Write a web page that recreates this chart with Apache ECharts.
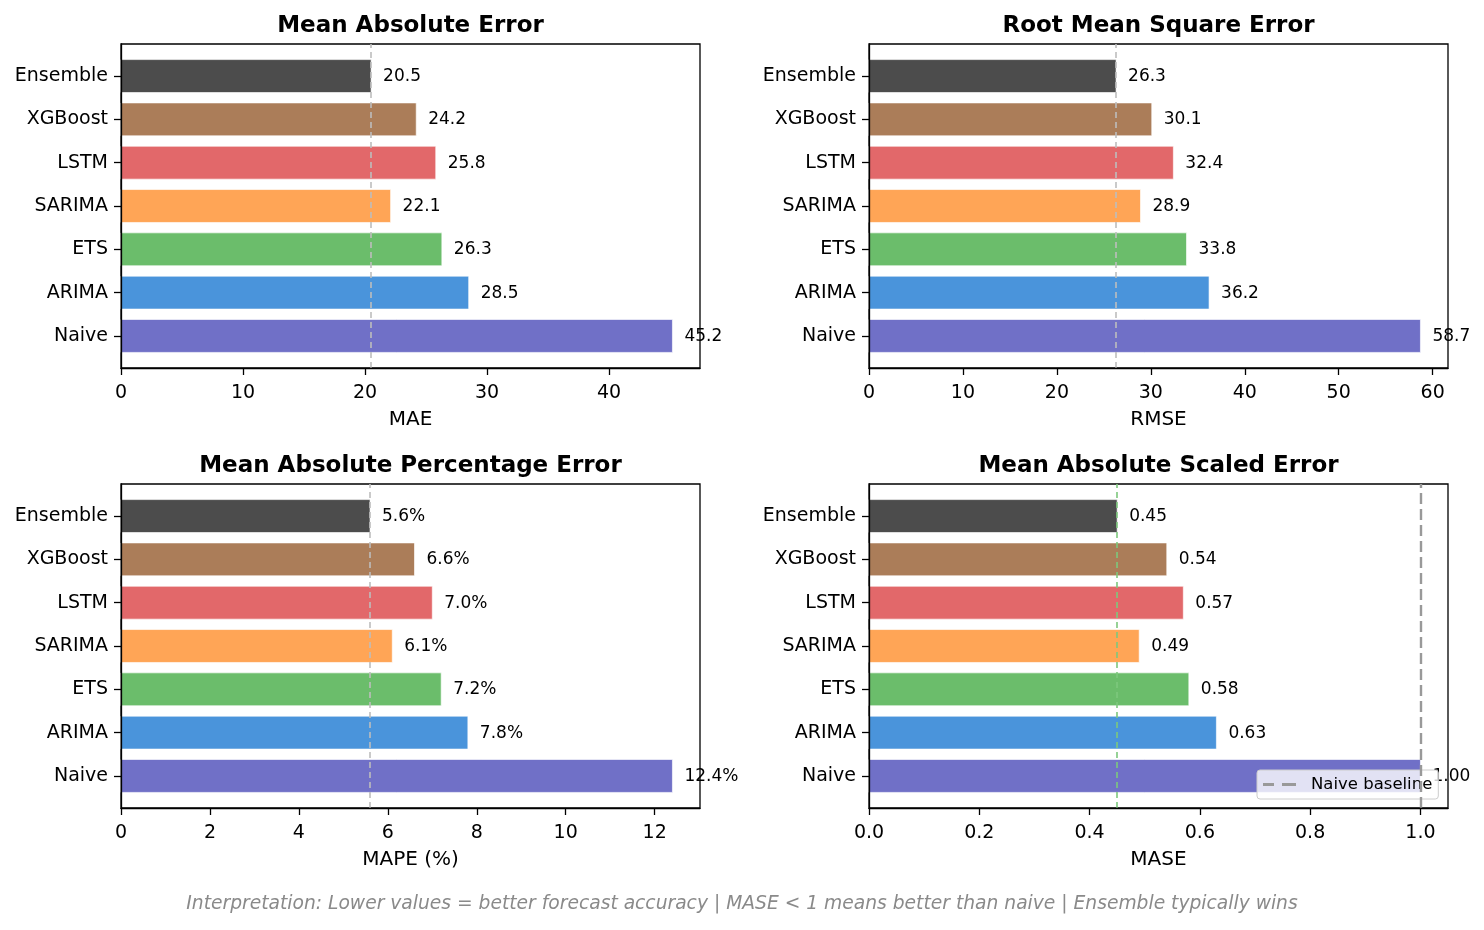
<!DOCTYPE html>
<html>
<head>
<meta charset="utf-8">
<script src="https://cdn.jsdelivr.net/npm/echarts@6/dist/echarts.min.js"></script>
<style>
html,body{margin:0;padding:0;background:#fff;}
#chart{width:1484px;height:930px;}
</style>
</head>
<body>
<div id="chart"></div>
<script>
// ---- data ----
const models = ['Naive', 'ARIMA', 'ETS', 'SARIMA', 'LSTM', 'XGBoost', 'Ensemble'];
const maeValues = [45.2, 28.5, 26.3, 22.1, 25.8, 24.2, 20.5];
const rmseValues = [58.7, 36.2, 33.8, 28.9, 32.4, 30.1, 26.3];
const mapeValues = [12.4, 7.8, 7.2, 6.1, 7.0, 6.6, 5.6];
const maseValues = [1.00, 0.63, 0.58, 0.49, 0.57, 0.54, 0.45];
const maeTicks = [0, 10, 20, 30, 40];
const rmseTicks = [0, 10, 20, 30, 40, 50, 60];
const mapeTicks = [0, 2, 4, 6, 8, 10, 12];
const maseTicks = [0, 0.2, 0.4, 0.6, 0.8, 1.0];
const naiveBaseline = 1.0;
const modelIndex = [0, 1, 2, 3, 4, 5, 6];

// ---- style ----
const barColors = ['#7070c7', '#4a94db', '#6bbd6b', '#ffa556', '#e2686a', '#ab7d59', '#4c4c4c'];
const FONT = 'DejaVu Sans';

const panels = [
  {title: 'Mean Absolute Error', axisName: 'MAE', values: maeValues, ticks: maeTicks,
   fmt: v => v.toFixed(1), tickFmt: v => String(v), best: '#bdbdbd', left: 121, top: 44},
  {title: 'Root Mean Square Error', axisName: 'RMSE', values: rmseValues, ticks: rmseTicks,
   fmt: v => v.toFixed(1), tickFmt: v => String(v), best: '#bdbdbd', left: 869, top: 44},
  {title: 'Mean Absolute Percentage Error', axisName: 'MAPE (%)', values: mapeValues, ticks: mapeTicks,
   fmt: v => v.toFixed(1) + '%', tickFmt: v => String(v), best: '#bdbdbd', left: 121, top: 484},
  {title: 'Mean Absolute Scaled Error', axisName: 'MASE', values: maseValues, ticks: maseTicks,
   fmt: v => v.toFixed(2), tickFmt: v => v.toFixed(1), best: '#7dc87d', left: 869, top: 484}
];
const W = 579, H = 324;

const grids = [], xAxes = [], yAxes = [], titles = [], series = [];
panels.forEach((p, k) => {
  grids.push({left: p.left, top: p.top, width: W, height: H, show: true,
    borderColor: '#000', borderWidth: 1.3, backgroundColor: 'transparent'});
  xAxes.push({type: 'value', gridIndex: k, min: 0, max: Math.max(...p.values) * 1.05,
    name: p.axisName, nameLocation: 'middle', nameGap: 42,
    nameTextStyle: {fontFamily: FONT, fontSize: 20, color: '#000'},
    axisLine: {show: true, onZero: false, lineStyle: {color: '#000', width: 1.3}},
    axisTick: {show: true, length: 7, lineStyle: {color: '#000', width: 1.3}, customValues: p.ticks},
    axisLabel: {fontFamily: FONT, fontSize: 19, color: '#000', margin: 16,
      customValues: p.ticks, formatter: v => p.tickFmt(v)},
    splitLine: {show: false}, z: 5});
  yAxes.push({type: 'value', gridIndex: k, min: -0.74, max: 6.74,
    axisLine: {show: true, onZero: false, lineStyle: {color: '#000', width: 1.3}},
    axisTick: {show: true, length: 7, lineStyle: {color: '#000', width: 1.3}, customValues: modelIndex},
    axisLabel: {fontFamily: FONT, fontSize: 19, color: '#000', margin: 13, padding: [5, 0, 0, 0],
      customValues: modelIndex, formatter: v => models[Math.round(v)]},
    splitLine: {show: false}, z: 5});
  titles.push({text: p.title, left: p.left + W / 2, top: p.top - 29, textAlign: 'center', padding: 0,
    textStyle: {fontFamily: FONT, fontSize: 23, fontWeight: 'bold', color: '#000'}});
  series.push({
    type: 'custom', name: p.axisName, xAxisIndex: k, yAxisIndex: k, clip: false,
    encode: {x: 0, y: 1},
    data: models.map((m, i) => [p.values[i], i]),
    renderItem: (params, api) => {
      const v = api.value(0), i = api.value(1);
      const s = api.coord([0, i]);
      const e = api.coord([v, i]);
      const h = api.size([0, 0.76])[1];
      return {type: 'group', children: [
        {type: 'rect', shape: {x: s[0], y: s[1] - h / 2, width: e[0] - s[0], height: h},
          style: {fill: barColors[params.dataIndex], stroke: 'rgba(255,255,255,0.8)', lineWidth: 0.8}},
        {type: 'text', x: e[0] + 12, y: e[1] + 0.5,
          style: {text: p.fmt(v), fontFamily: FONT, fontSize: 17, fill: '#000',
            align: 'left', verticalAlign: 'middle'}}
      ]};
    }
  });
  series.push({
    type: 'line', name: 'best-' + k, xAxisIndex: k, yAxisIndex: k, data: [],
    markLine: {silent: true, symbol: 'none', label: {show: false}, animation: false,
      lineStyle: {color: p.best, type: [6, 4], width: 1.6},
      data: [{xAxis: Math.min(...p.values)}]}
  });
});

series.push({
  type: 'line', name: 'Naive baseline', xAxisIndex: 3, yAxisIndex: 3, data: [],
  itemStyle: {color: '#999999'}, lineStyle: {color: '#999999', type: [11, 5], width: 2.2},
  markLine: {silent: true, symbol: 'none', label: {show: false}, animation: false,
    lineStyle: {color: '#999999', type: [11, 5], width: 2.4},
    data: [{xAxis: naiveBaseline}]}
});

titles.push({text: 'Interpretation: Lower values = better forecast accuracy | MASE < 1 means better than naive | Ensemble typically wins',
  left: 742, top: 895, textAlign: 'center', padding: 0,
  textStyle: {fontFamily: FONT, fontSize: 18.7, fontStyle: 'italic', fontWeight: 'normal', color: '#8a8a8a'}});

const chart = echarts.init(document.getElementById('chart'), null, {renderer: 'canvas', width: 1484, height: 930});
chart.setOption({
  animation: false,
  backgroundColor: '#fff',
  title: titles,
  grid: grids,
  xAxis: xAxes,
  yAxis: yAxes,
  legend: {
    data: [{name: 'Naive baseline', icon: 'path://M0,0h11v3h-11z M19,0h14v3h-14z M42.9,1.45h0.1v0.1h-0.1z'}],
    left: 1257, top: 770, orient: 'vertical', selectedMode: false,
    itemWidth: 43, itemHeight: 3, padding: [6, 6, 6, 6],
    backgroundColor: 'rgba(255,255,255,0.8)', borderColor: '#cccccc', borderWidth: 1, borderRadius: 3,
    itemStyle: {color: '#999999'},
    textStyle: {fontFamily: FONT, fontSize: 16.5, color: '#000'}
  },
  series: series
});
</script>
</body>
</html>
